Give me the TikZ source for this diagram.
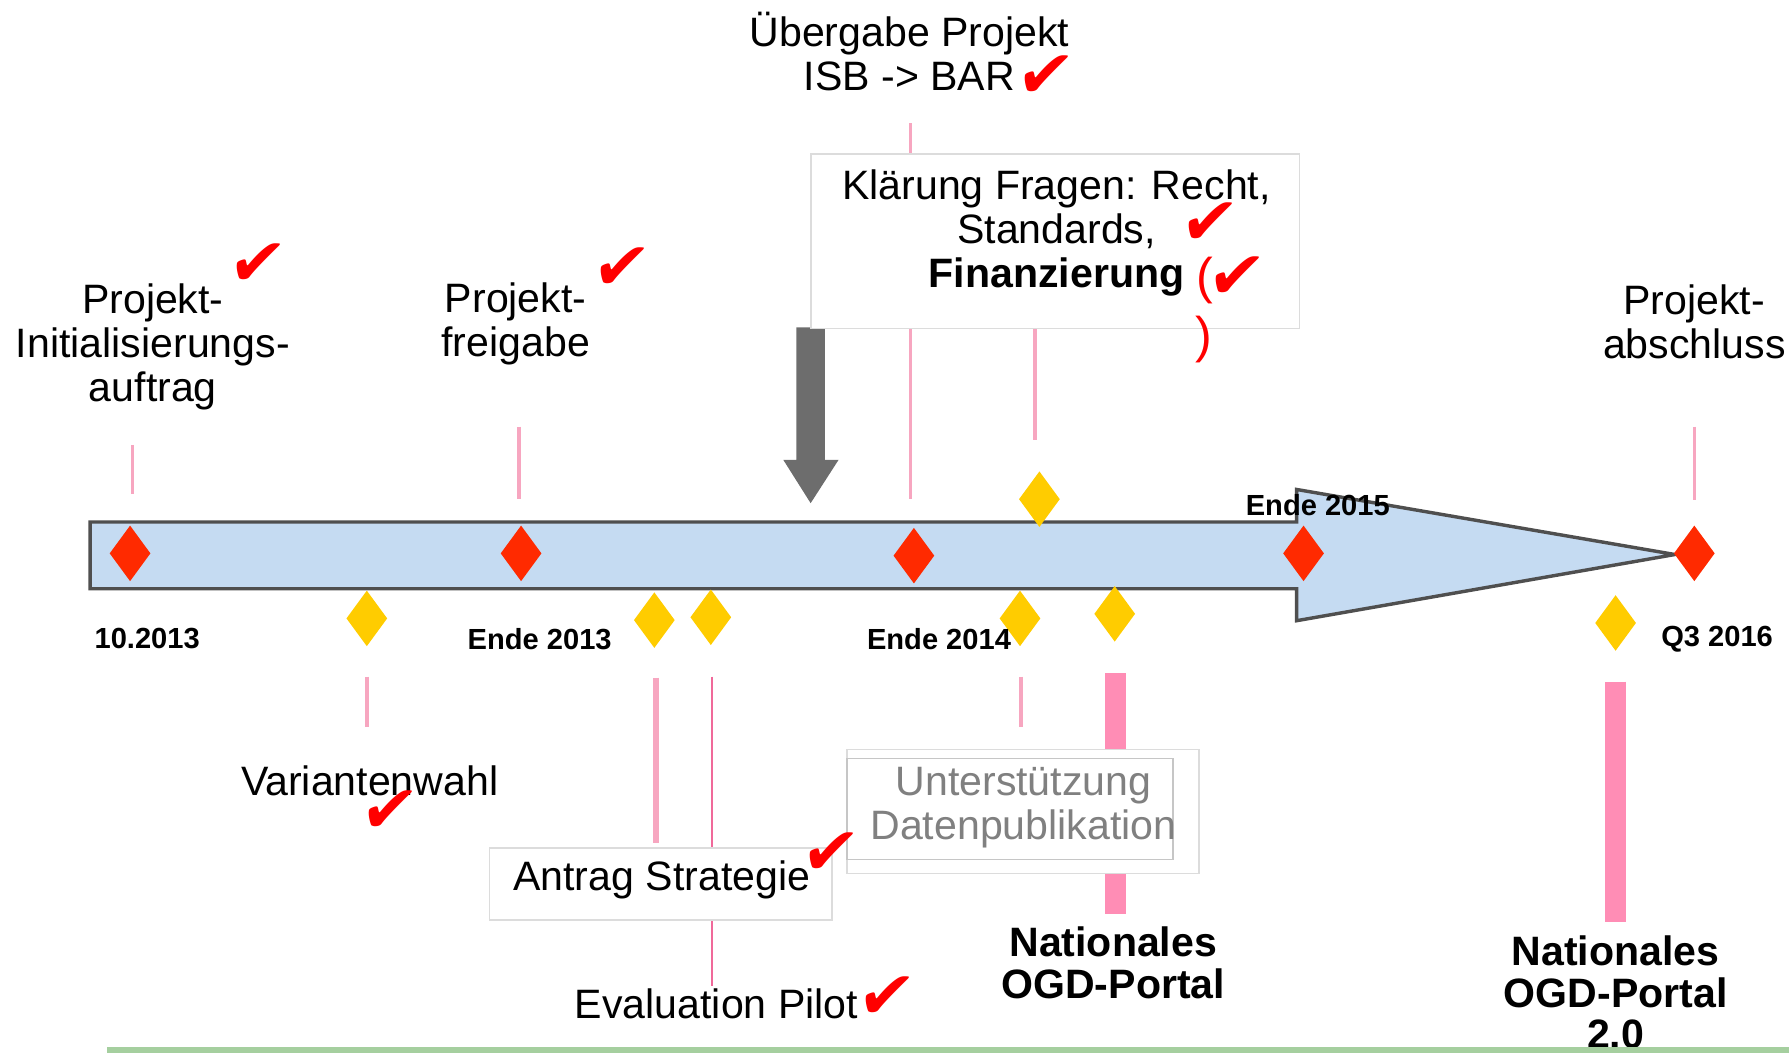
\documentclass[tikz,border=0pt]{standalone}
\usepackage{fontspec}
\setmainfont{Liberation Sans}
\newfontfamily\dejavu{DejaVu Sans}
\usetikzlibrary{shapes.geometric}
\definecolor{barfill}{HTML}{C5DBF2}
\definecolor{barline}{HTML}{4F4F4F}
\definecolor{mred}{HTML}{FF2A00}
\definecolor{myel}{HTML}{FFCC00}
\definecolor{pinkA}{HTML}{F7A6C0}
\definecolor{pinkB}{HTML}{F0699A}
\definecolor{pinkC}{HTML}{FF8DB5}
\definecolor{arrgray}{HTML}{6D6D6D}
\definecolor{boxline}{HTML}{DCDCDC}
\definecolor{greenline}{HTML}{A5CF9F}
\definecolor{txtgray}{HTML}{808080}
\definecolor{chkred}{HTML}{FF0000}
\begin{document}
\begin{tikzpicture}[x=0.5pt,y=-0.5pt,
  rdia/.style={diamond, fill=mred, draw=none, inner sep=0pt, minimum width=18pt, minimum height=24.5pt},
  ydia/.style={diamond, fill=myel, draw=none, inner sep=0pt, minimum width=18pt, minimum height=24.5pt},
  lbl/.style={font=\fontsize{18pt}{19.25pt}\selectfont, align=center, inner sep=0pt},
  blbl/.style={font=\bfseries\fontsize{18pt}{18.25pt}\selectfont, align=center, inner sep=0pt},
  dlbl/.style={font=\bfseries\fontsize{12.75pt}{13pt}\selectfont, inner sep=0pt},
  chk/.style={text=chkred, font=\dejavu\fontsize{29pt}{29pt}\selectfont, inner sep=0pt, xslant=0.15, transform shape},
  paren/.style={text=chkred, font=\fontsize{22pt}{22pt}\selectfont, inner sep=0pt},
  wbox/.style={draw=boxline, fill=white, line width=0.75pt, inner sep=0pt},
  thinpink/.style={draw=pinkA, line width=1.5pt},
  hotpink/.style={draw=pinkB, line width=1pt},
  barpink/.style={draw=pinkC, line width=9pt}
]
\useasboundingbox (0,0) rectangle (1568,923);
\clip (0,0) rectangle (1568,923);

% pink marker lines (behind everything)
\draw[thinpink] (116,390) -- (116,433);
\draw[thinpink] (455,374) -- (455,437);
\draw[thinpink] (798,108) -- (798,437);
\draw[thinpink] (907,200) -- (907,386);
\draw[thinpink] (1485,374) -- (1485,438);
\draw[thinpink] (321.5,593) -- (321.5,637);
\draw[thinpink, line width=3pt] (575,594) -- (575,739);
\draw[hotpink] (624,593) -- (624,864);
\draw[thinpink] (895,593) -- (895,637);
\draw[barpink] (977.5,590) -- (977.5,801);
\draw[barpink] (1416,597.5) -- (1416,808);

% big timeline arrow
\draw[fill=barfill, draw=barline, line width=1.5pt, line join=miter]
  (79,457.5) -- (1136.5,457.5) -- (1136.5,429) -- (1468,486) -- (1136.5,544) -- (1136.5,516) -- (79,516) -- cycle;

% gray down arrow
\fill[arrgray] (698,287) -- (723,287) -- (723,403) -- (735,403) -- (710.5,441) -- (686.5,403) -- (698,403) -- cycle;

% boxes
\node[wbox, minimum width=214pt, minimum height=76.5pt] (kbox) at (925,211.5) {};
\node[wbox, minimum width=154.3pt, minimum height=54.4pt] (ubox) at (896.5,711.3) {};
\node[wbox, draw=boxline!90!black, minimum width=143.15pt, minimum height=44.3pt] (uinner) at (885.2,709) {};
\node[wbox, minimum width=150pt, minimum height=31.75pt] (abox) at (579,774.7) {};

% red milestones
\node[rdia] (r1) at (114,485) {};
\node[rdia] (r2) at (456.7,485) {};
\node[rdia] (r3) at (801,487) {};
\node[rdia] (r4) at (1142.5,485) {};
\node[rdia] (r5) at (1485,485) {};

% yellow milestones
\node[ydia] (y1) at (321.5,542) {};
\node[ydia] (y2) at (573.5,543.5) {};
\node[ydia] (y3) at (623,541) {};
\node[ydia] (y4) at (911,437.5) {};
\node[ydia] (y5) at (894,542) {};
\node[ydia] (y6) at (977,538) {};
\node[ydia] (y7) at (1416,546) {};

% date labels
\node[dlbl] (d1) at (129,560) {10.2013};
\node[dlbl] (d2) at (473,560) {Ende 2013};
\node[dlbl] (d3) at (823,560) {Ende 2014};
\node[dlbl] (d4) at (1155,443) {Ende 2015};
\node[dlbl] (d5) at (1505,560) {Q3 2016};

% labels
\node[lbl] (tInit) at (134,304) {Projekt-\\Initialisierungs-\\auftrag};
\node[lbl] (tFrei) at (452,284) {Projekt-\\freigabe};
\node[lbl] (tUeb) at (797,45) {Übergabe Projekt\\ISB -> BAR};
\node[lbl] (tAbs) at (1485,282) {Projekt-\\abschluss};
\node[lbl] (tKlar) at (926,204) {Klärung Fragen: Recht,\\Standards,\\\textbf{Finanzierung}};
\node[lbl] (tVar) at (324,684) {Variantenwahl};
\node[lbl] (tAntrag) at (580,771.5) {Antrag Strategie};
\node[lbl, text=txtgray] (tUnt) at (897,708) {Unterstützung\\Datenpublikation};
\node[lbl] (tEval) at (628,880) {Evaluation Pilot};
\node[blbl] (tNat1) at (975.7,844) {Nationales\\OGD-Portal};
\node[blbl] (tNat2) at (1416,870) {Nationales\\OGD-Portal\\2.0};

% check marks and parentheses
\node[chk] (c1) at (225.5,232) {✔};
\node[chk] (c2) at (545,235) {✔};
\node[chk] (c3) at (916,67) {✔};
\node[chk] (c4) at (1060,196) {✔};
\node[chk] (c5) at (1083.5,243) {✔};
\node[chk] (c6) at (341.5,711.5) {✔};
\node[chk] (c7) at (727.5,748) {✔};
\node[chk] (c8) at (776.6,874) {✔};
\node[paren] (p1) at (1056,246) {(};
\node[paren] (p2) at (1055.5,297.5) {)};

% green base line
\draw[greenline, line width=2.75pt] (94,920.3) -- (1568,920.3);
\end{tikzpicture}
\end{document}
